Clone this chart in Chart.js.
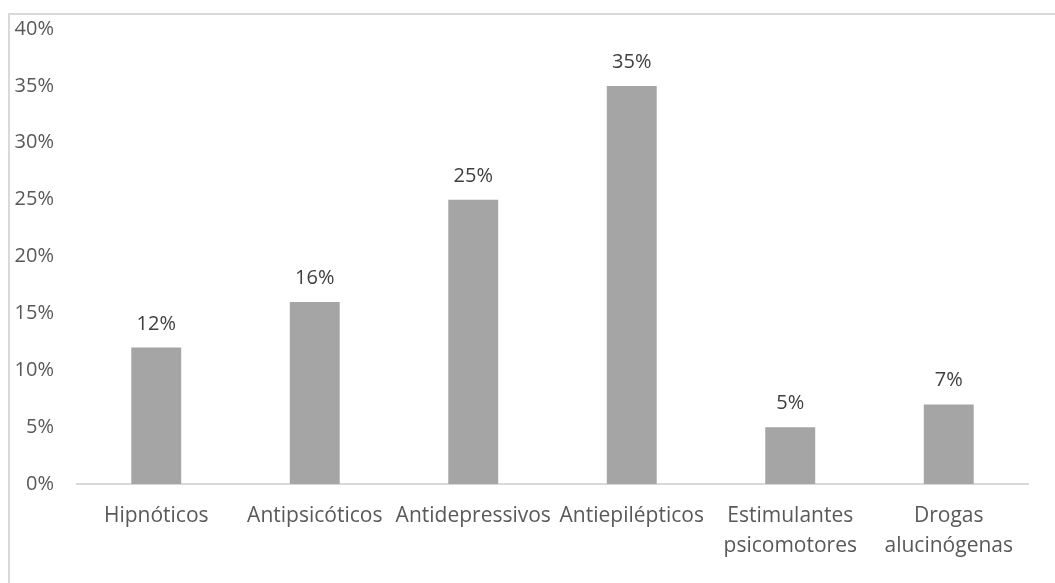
<!DOCTYPE html>
<html>
<head>
<meta charset="utf-8">
<script src="https://cdn.jsdelivr.net/npm/chart.js@4"></script>
<style>
  html, body { margin: 0; padding: 0; background: #fff; }
  #wrap { position: relative; width: 1055px; height: 583px; overflow: hidden; }
  #frame { position: absolute; left: 8px; top: 13px; width: 1200px; height: 700px;
           border-left: 2px solid #d9d9d9; border-top: 2px solid #d9d9d9; pointer-events: none; }
  canvas { position: absolute; left: 0; top: 0; }
</style>
</head>
<body>
<div id="wrap">
  <canvas id="chart" width="1055" height="583"></canvas>
  <div id="frame"></div>
</div>
<script>
// Drug classes and their share (%)
const categories = [
  'Hipnóticos',
  'Antipsicóticos',
  'Antidepressivos',
  'Antiepilépticos',
  ['Estimulantes', 'psicomotores'],
  ['Drogas', 'alucinógenas']
];
const shares = [12, 16, 25, 35, 5, 7];
const yTicks = [0, 5, 10, 15, 20, 25, 30, 35, 40];

const FONT = '"Open Sans", "Liberation Sans", sans-serif';

// Writes each bar's value above it
const valueLabels = {
  id: 'valueLabels',
  afterDatasetsDraw(chart) {
    const ctx = chart.ctx;
    const meta = chart.getDatasetMeta(0);
    const data = chart.data.datasets[0].data;
    ctx.save();
    ctx.font = '20px ' + FONT;
    ctx.fillStyle = '#404040';
    ctx.textAlign = 'center';
    ctx.textBaseline = 'alphabetic';
    meta.data.forEach((bar, i) => {
      ctx.fillText(data[i] + '%', bar.x, bar.y - 18);
    });
    ctx.restore();
  }
};

new Chart(document.getElementById('chart'), {
  type: 'bar',
  data: {
    labels: categories,
    datasets: [{
      data: shares,
      backgroundColor: '#a5a5a5',
      borderWidth: 0,
      barPercentage: 0.315,
      categoryPercentage: 1
    }]
  },
  options: {
    responsive: false,
    animation: false,
    devicePixelRatio: 1,
    layout: { padding: { left: 0, right: 27, top: 29, bottom: 0 } },
    plugins: {
      legend: { display: false },
      tooltip: { enabled: false }
    },
    scales: {
      x: {
        grid: { display: false, drawTicks: false },
        border: { display: true, color: '#d9d9d9', width: 2 },
        ticks: {
          color: '#595959',
          font: { family: FONT, size: 21, lineHeight: 1.43 },
          padding: 17,
          maxRotation: 0,
          minRotation: 0,
          autoSkip: false
        },
        afterFit(scale) {
          scale.height = 99;
          scale.paddingTop = 0;
          scale.paddingBottom = 0;
        }
      },
      y: {
        min: 0,
        max: 40,
        grid: { display: false, drawTicks: false },
        border: { display: false },
        afterBuildTicks(scale) { scale.ticks = yTicks.map(v => ({ value: v })); },
        ticks: {
          color: '#595959',
          font: { family: FONT, size: 20 },
          padding: 23,
          callback: v => v + '%'
        },
        afterFit(scale) {
          scale.width = 77;
          scale.paddingTop = 0;
          scale.paddingBottom = 0;
        }
      }
    }
  },
  plugins: [valueLabels]
});
</script>
</body>
</html>
